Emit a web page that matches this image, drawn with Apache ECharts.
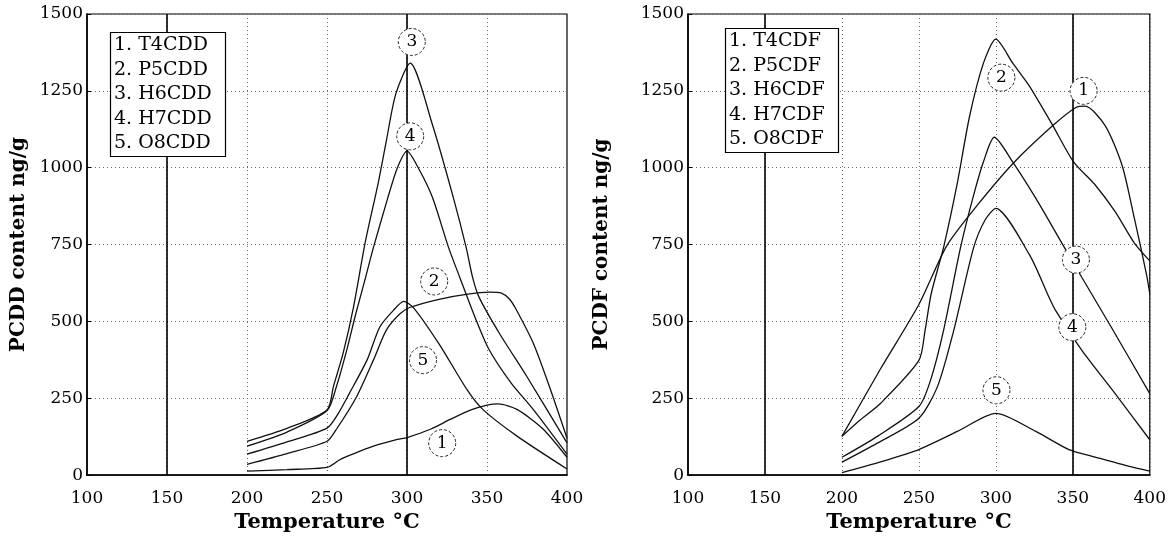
<!DOCTYPE html>
<html>
<head>
<meta charset="utf-8">
<title>PCDD / PCDF content vs temperature</title>
<script src="https://cdn.jsdelivr.net/npm/echarts@6/dist/echarts.min.js"></script>
<style>
  html, body { margin: 0; padding: 0; background: #fff; }
  #chart { width: 1169px; height: 538px; }
</style>
</head>
<body>
<div id="chart"></div>
<script>
// values: [temperature °C, content ng/g]
const t4cdd = [[200, 13], [225, 18], [250, 25], [258, 50], [266, 68], [279, 94], [294, 116], [300, 122], [315, 150], [327, 181], [340, 212], [350, 228], [357, 232], [369, 213], [385, 150], [400, 58]]
const p5cdd = [[200, 35], [225, 70], [250, 110], [256, 150], [268.5, 255], [279, 374], [287, 471], [295.6, 525], [302, 546], [320, 572], [337, 588], [352, 595], [359, 592], [364, 573], [368, 541], [379, 428], [389, 288], [400, 120]]
const h6cdd = [[200, 110], [225, 152], [250, 212], [254, 288], [260, 395], [266.5, 545], [274, 760], [282, 950], [287, 1085], [293, 1240], [302, 1340], [316, 1138], [329, 902], [337, 740], [341, 643], [345, 579], [358, 459], [375, 320], [400, 105]]
const h7cdd = [[200, 94], [225, 140], [250, 210], [256, 290], [262, 400], [268, 525], [273.7, 635], [279, 740], [288, 902], [294, 1000], [300, 1054], [308, 990], [316, 902], [326, 740], [333, 643], [342, 520], [351, 411], [365, 300], [379, 213], [400, 68]]
const o8cdd = [[200, 68], [225, 108], [250, 153], [257, 200], [264, 266], [275, 374], [283, 482], [291.5, 536], [298, 565], [304, 545], [320, 427], [337.5, 278], [347.5, 213], [369, 126], [400, 20]]

const t4cdf = [[200, 126], [225, 345], [250, 555], [268, 745], [288, 878], [311, 1013], [337, 1137], [352, 1196], [358, 1200], [371, 1137], [382, 1008], [390, 835], [398, 650], [400, 590]]
const p5cdf = [[200, 126], [212, 180], [225, 233], [250, 373], [254, 470], [258, 590], [266, 740], [274.7, 943], [283, 1169], [292, 1341], [300, 1418], [311, 1340], [321.7, 1266], [337, 1137], [350.5, 1019], [364.7, 943], [377.5, 857], [390, 755], [400, 697]]
const h6cdf = [[200, 58], [223, 126], [250, 223], [257.6, 309], [266, 470], [277, 739], [285, 900], [292, 1020], [299, 1099], [311, 1018], [326, 900], [341, 771], [356, 642], [375, 481], [400, 265]]
const h7cdf = [[200, 42], [223, 104], [250, 185], [262, 287], [272.6, 470], [285.5, 739], [293, 830], [300, 868], [321.8, 717], [334.7, 577], [339, 534], [356, 405], [377.5, 265], [400, 115]]
const o8cdf = [[200, 8], [223, 40], [250, 83], [275, 142], [300, 201], [326, 142], [347.5, 83], [365, 58], [386, 29], [400, 13]]

// circled curve numbers [x, y, number]
const pcddTags = [[303, 1409, '3'], [302, 1102, '4'], [317, 630, '2'], [310, 374, '5'], [322, 104, '1']]
const pcdfTags = [[303.6, 1293, '2'], [357, 1250, '1'], [352, 701, '3'], [349.7, 481, '4'], [300.4, 276, '5']]

// heavy vertical lines in the scan
const pcddSolid = [150, 300]
const pcdfSolid = [150, 350]

const pcddNames = ['1. T4CDD', '2. P5CDD', '3. H6CDD', '4. H7CDD', '5. O8CDD']
const pcdfNames = ['1. T4CDF', '2. P5CDF', '3. H6CDF', '4. H7CDF', '5. O8CDF']

const serif = 'DejaVu Serif'
const dotted = { color: '#666', type: [1, 3], width: 1 }

function xAxis (idx) {
  return {
    type: 'value', gridIndex: idx, min: 100, max: 400, interval: 50,
    name: 'Temperature °C', nameLocation: 'middle', nameGap: 29,
    nameTextStyle: { fontFamily: serif, fontWeight: 'bold', fontSize: 21, color: '#000' },
    axisLine: { lineStyle: { color: '#000', width: 1.6 } },
    axisTick: { show: false },
    axisLabel: { fontFamily: serif, fontSize: 17, color: '#000', margin: 15 },
    splitLine: { show: true, lineStyle: dotted }
  }
}

function yAxis (idx, name, gap) {
  return {
    type: 'value', gridIndex: idx, min: 0, max: 1500, interval: 250,
    name, nameLocation: 'middle', nameGap: gap,
    nameTextStyle: { fontFamily: serif, fontWeight: 'bold', fontSize: 20, color: '#000' },
    axisLine: { show: true, lineStyle: { color: '#000', width: 1.6 } },
    axisTick: { show: true, inside: true, length: 4, lineStyle: { color: '#000' } },
    axisLabel: { fontFamily: serif, fontSize: 17, color: '#000', margin: 4, formatter: v => String(v) },
    splitLine: { show: true, lineStyle: dotted }
  }
}

function curve (data, idx) {
  return {
    type: 'line', xAxisIndex: idx, yAxisIndex: idx, data,
    smooth: 0.25, symbol: 'none', silent: true,
    lineStyle: { color: '#111', width: 1.3 }
  }
}

function marked (data, idx, solid, tags) {
  const s = curve(data, idx)
  s.markLine = {
    silent: true, symbol: ['none', 'none'], label: { show: false },
    lineStyle: { color: '#000', width: 1.6, type: 'solid' },
    data: solid.map(x => ({ xAxis: x }))
  }
  s.markPoint = {
    silent: true, z: 10, symbol: 'circle', symbolSize: 27,
    itemStyle: { color: '#fff', borderColor: '#222', borderWidth: 1, borderType: [3, 2] },
    label: { show: true, color: '#000', fontFamily: serif, fontSize: 17, fontWeight: 'normal' },
    data: tags.map(([x, y, n]) => ({ coord: [x, y], value: n }))
  }
  return s
}

function legendBox (lines, left, top) {
  return {
    text: lines.join('\n'), left, top,
    padding: [1, 14, 1, 4],
    borderColor: '#000', borderWidth: 1.2, backgroundColor: '#fff',
    textStyle: { fontFamily: serif, fontSize: 19, fontWeight: 'normal', color: '#000', lineHeight: 24.5 }
  }
}

const chart = echarts.init(document.getElementById('chart'), null, { renderer: 'canvas' })
chart.setOption({
  animation: false,
  backgroundColor: '#fff',
  title: [legendBox(pcddNames, 110, 32), legendBox(pcdfNames, 725, 28)],
  grid: [
    { left: 87, right: 602, top: 14, bottom: 59, show: true, borderColor: '#000', borderWidth: 1.2 },
    { left: 688, right: 14, top: 14, bottom: 59, show: true, borderColor: '#000', borderWidth: 1.2 }
  ],
  xAxis: [xAxis(0), xAxis(1)],
  yAxis: [yAxis(0, 'PCDD content ng/g', 58), yAxis(1, 'PCDF content ng/g', 76)],
  series: [
    marked(t4cdd, 0, pcddSolid, pcddTags),
    curve(p5cdd, 0),
    curve(h6cdd, 0),
    curve(h7cdd, 0),
    curve(o8cdd, 0),
    marked(t4cdf, 1, pcdfSolid, pcdfTags),
    curve(p5cdf, 1),
    curve(h6cdf, 1),
    curve(h7cdf, 1),
    curve(o8cdf, 1)
  ]
})
</script>
</body>
</html>
